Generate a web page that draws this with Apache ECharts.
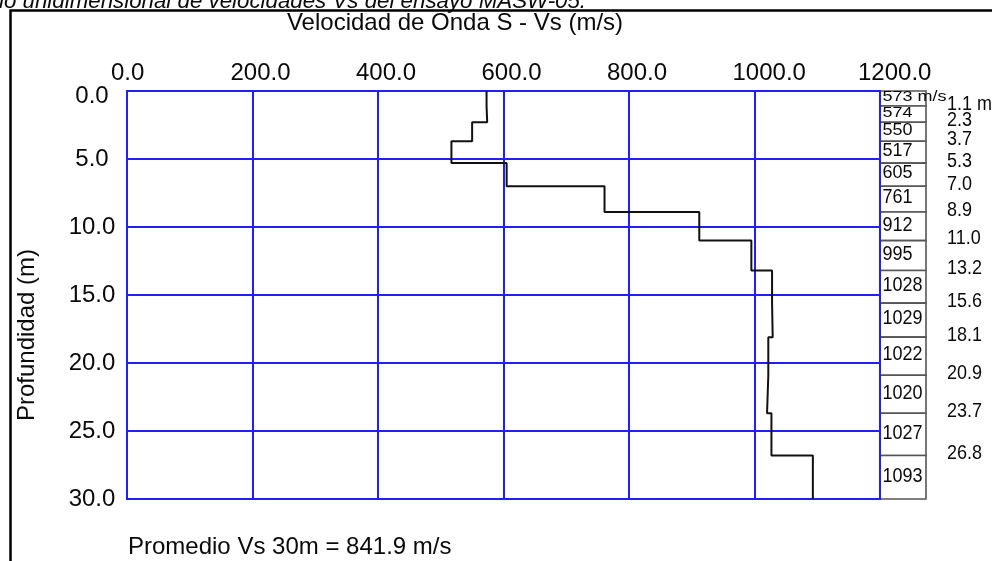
<!DOCTYPE html>
<html>
<head>
<meta charset="utf-8">
<script src="https://cdn.jsdelivr.net/npm/echarts@6/dist/echarts.min.js"></script>
<style>
html,body{margin:0;padding:0;background:#fff;}
#c{width:992px;height:561px;}
</style>
</head>
<body>
<div id="c"></div>
<script>
// ---- data ----
var layerVs = [573, 574, 550, 517, 605, 761, 912, 995, 1028, 1029, 1022, 1020, 1027, 1093];
var layerBottom = [1.1, 2.3, 3.7, 5.3, 7.0, 8.9, 11.0, 13.2, 15.6, 18.1, 20.9, 23.7, 26.8, 30.0];
var xTicks = [0, 200, 400, 600, 800, 1000, 1200];
var yTicks = [0, 5, 10, 15, 20, 25, 30];
var vsAverage = '841.9';

var FONT = "'Liberation Sans', Arial, sans-serif";
var BLUE = '#1f1fff';
var TXT = '#0a0a0a';

// step profile built from the layers
var stepPts = [];
var boxData = [];
var prev = 0;
for (var i = 0; i < layerVs.length; i++) {
  stepPts.push([layerVs[i], prev]);
  stepPts.push([layerVs[i], layerBottom[i]]);
  boxData.push([prev, layerBottom[i], layerVs[i], i]);
  prev = layerBottom[i];
}

var chart = echarts.init(document.getElementById('c'), null, {renderer: 'canvas'});

var option = {
  animation: false,
  backgroundColor: '#fff',
  grid: [
    {left: 127, top: 91, width: 753, height: 408, show: true, borderColor: BLUE, borderWidth: 2, backgroundColor: 'transparent'},
    {left: 105, top: 91, width: 753, height: 408, show: false}
  ],
  xAxis: [
    {
      gridIndex: 0, type: 'value', position: 'top', min: xTicks[0], max: xTicks[xTicks.length - 1], interval: 200,
      axisLine: {show: false}, axisTick: {show: false}, axisLabel: {show: false},
      splitLine: {show: true, lineStyle: {color: BLUE, width: 2}}
    },
    {
      gridIndex: 1, type: 'value', position: 'top', min: xTicks[0], max: xTicks[xTicks.length - 1], interval: 200,
      axisLine: {show: false}, axisTick: {show: false}, splitLine: {show: false},
      axisLabel: {
        show: true, align: 'left', verticalAlign: 'bottom', margin: 6, showMinLabel: true, showMaxLabel: true,
        fontFamily: FONT, fontSize: 24, color: TXT,
        formatter: function (v) { return v === 0 ? '{z|' + v.toFixed(1) + '}' : v.toFixed(1); },
        rich: {z: {padding: [0, 0, 0, 6], fontFamily: FONT, fontSize: 24, color: TXT}}
      }
    }
  ],
  yAxis: [
    {
      gridIndex: 0, type: 'value', inverse: true, min: yTicks[0], max: yTicks[yTicks.length - 1], interval: 5,
      axisLine: {show: false}, axisTick: {show: false},
      splitLine: {show: true, lineStyle: {color: BLUE, width: 2}},
      axisLabel: {
        show: true, align: 'center', margin: 35, showMinLabel: true, showMaxLabel: true,
        fontFamily: FONT, fontSize: 24, color: TXT,
        formatter: function (v) { return v === 0 ? '{z|' + v.toFixed(1) + '}' : v.toFixed(1); },
        rich: {z: {padding: [10, 0, 0, 0], fontFamily: FONT, fontSize: 24, color: TXT}}
      }
    },
    {gridIndex: 1, type: 'value', inverse: true, min: 0, max: 30, show: false}
  ],
  series: [
    {
      type: 'custom',
      xAxisIndex: 0, yAxisIndex: 0,
      coordinateSystem: 'cartesian2d',
      clip: false,
      encode: {x: 2, y: [0, 1]},
      data: boxData,
      z: 1,
      renderItem: function (params, api) {
        var p0 = api.coord([xTicks[xTicks.length - 1], api.value(0)]);
        var p1 = api.coord([xTicks[xTicks.length - 1], api.value(1)]);
        var x = p0[0], y0 = p0[1], y1 = p1[1], h = y1 - y0;
        var idx = api.value(3);
        var vsTxt = String(api.value(2)) + (idx === 0 ? ' m/s' : '');
        var dTxt = api.value(1).toFixed(1) + (idx === 0 ? ' m' : '');
        var cap = Math.min(15, 4 + 0.4 * h);
        var sy = cap / 12.9;
        var children = [
          {type: 'rect', shape: {x: x + 1.5, y: y0, width: 45, height: h}, style: {fill: '#fff'}},
          {type: 'polyline', shape: {points: [[x + 1, y0], [x + 46, y0], [x + 46, y1], [x + 1, y1]]},
           style: {stroke: '#555', lineWidth: 1.6, fill: null}},
          {type: 'text', x: x + 2.5, y: (y0 + y1) / 2 - 1.5, scaleY: sy,
           style: {text: vsTxt, fill: TXT, font: '18px ' + FONT, align: 'left', verticalAlign: 'middle'}}
        ];
        if (idx < layerVs.length - 1) {
          children.push({type: 'text', x: x + 67, y: y1 - 2, scaleY: 1.12,
            style: {text: dTxt, fill: TXT, font: '18px ' + FONT, align: 'left', verticalAlign: 'middle'}});
        }
        return {type: 'group', children: children};
      }
    },
    {
      type: 'line',
      xAxisIndex: 0, yAxisIndex: 0,
      data: stepPts,
      symbol: 'none',
      z: 5,
      lineStyle: {color: '#111', width: 2}
    }
  ],
  graphic: [
    {type: 'rect', shape: {x: 10.5, y: 10.5, width: 1000, height: 600}, style: {fill: null, stroke: '#000', lineWidth: 2.5}, z: 10},
    {type: 'text', x: -1, y: 12.5, style: {text: 'lo unidimensional de velocidades Vs del ensayo MASW-05.', font: 'italic 22.3px ' + FONT, fill: TXT, textAlign: 'left', textVerticalAlign: 'bottom'}, z: 10},
    {type: 'text', x: 455, y: 23, style: {text: 'Velocidad de Onda S - Vs (m/s)', font: '24px ' + FONT, fill: TXT, textAlign: 'center', textVerticalAlign: 'middle'}, z: 10},
    {type: 'text', x: 27, y: 335, rotation: Math.PI / 2, style: {text: 'Profundidad (m)', font: '24px ' + FONT, fill: TXT, textAlign: 'center', textVerticalAlign: 'middle'}, z: 10},
    {type: 'text', x: 128, y: 547, style: {text: 'Promedio Vs 30m = ' + vsAverage + ' m/s', font: '24px ' + FONT, fill: TXT, textAlign: 'left', textVerticalAlign: 'middle'}, z: 10}
  ]
};
chart.setOption(option);
</script>
</body>
</html>
